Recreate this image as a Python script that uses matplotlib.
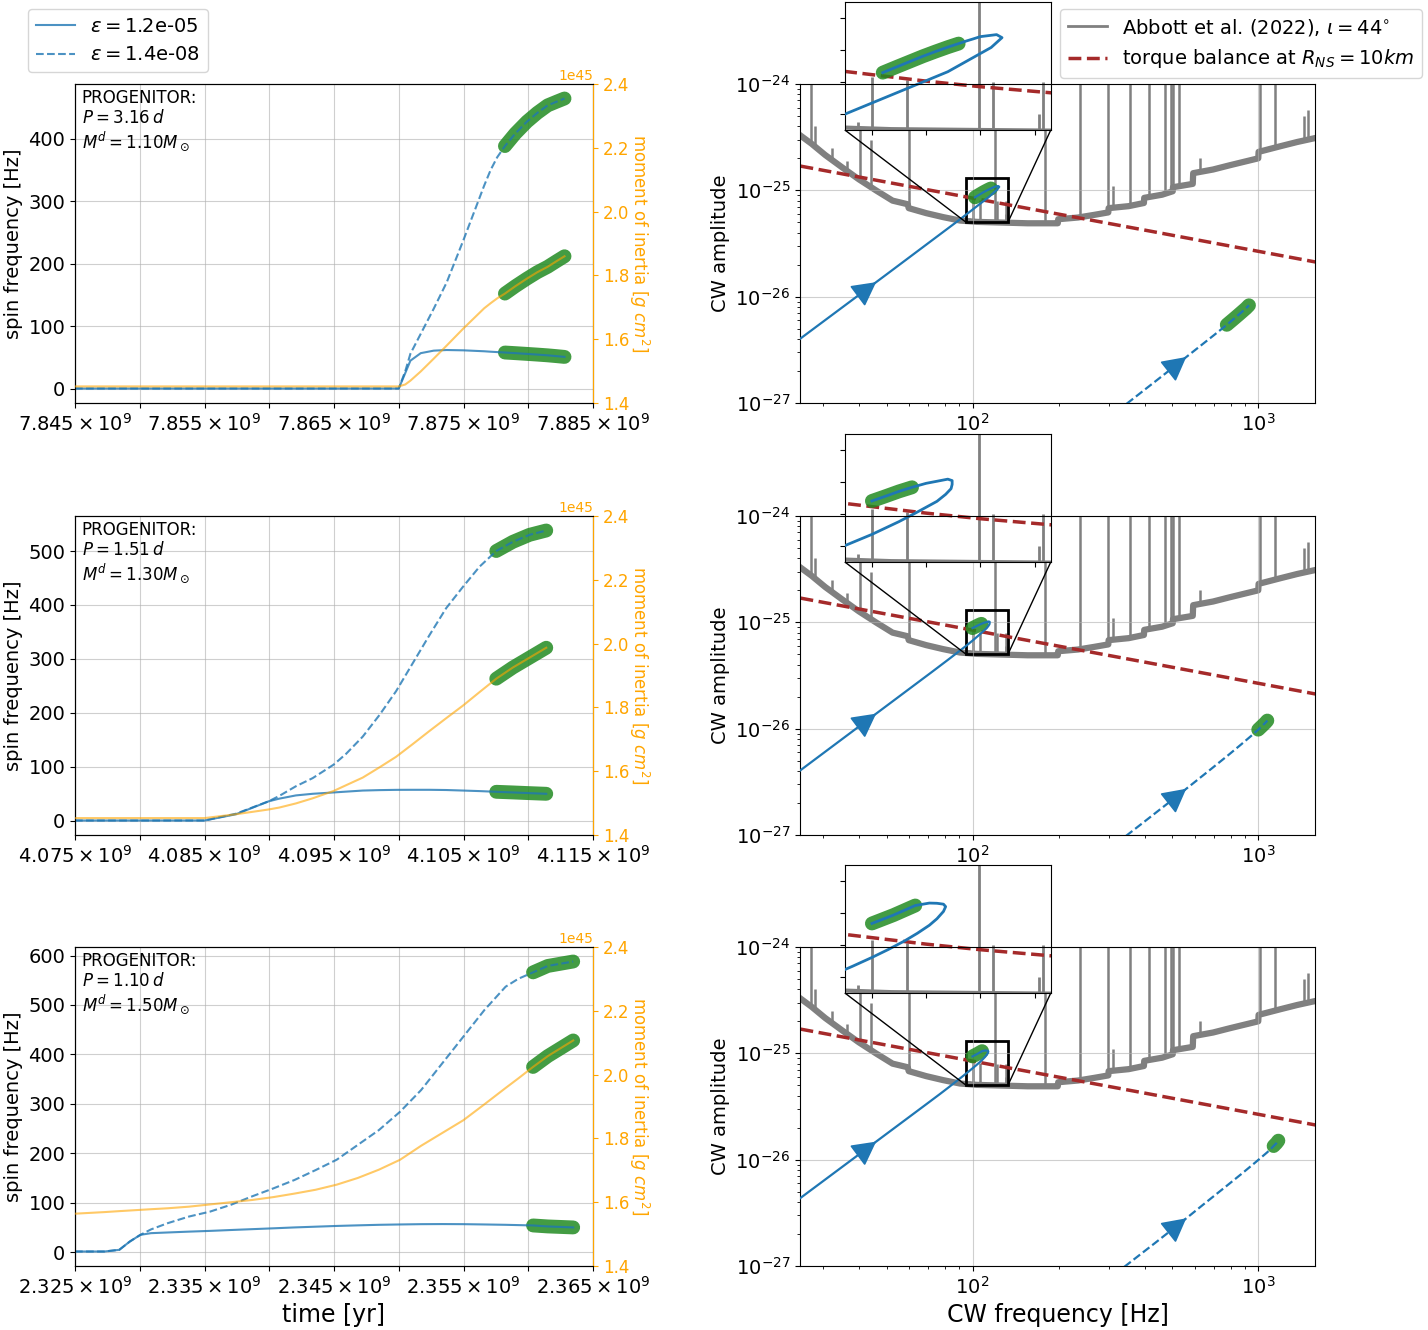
import numpy as np
import matplotlib
matplotlib.use("Agg")
import matplotlib.pyplot as plt
from matplotlib.ticker import MultipleLocator, FuncFormatter, NullFormatter, FixedLocator, LogLocator
from matplotlib.lines import Line2D
from mpl_toolkits.axes_grid1.inset_locator import mark_inset

plt.rcParams['font.size'] = 14

# ---------------- data ----------------
eps_labels = ['1.2e-05', '1.4e-08']
eps_values = [1.2e-05, 1.4e-08]
progenitor_P = ['3.16', '1.51', '1.10']
progenitor_Md = ['1.10', '1.30', '1.50']
time_start = [7.845e9, 4.075e9, 2.325e9]
time_end = [7.885e9, 4.115e9, 2.365e9]
green_start = [7.8782, 4.10753, 2.36037]          # 1e9 yr, start of green segment

# panel 1 (times in 1e9 yr, spin in Hz, moment of inertia in 1e45 g cm^2)
time_1 = [7.8450, 7.8600, 7.8700, 7.8705, 7.8709, 7.8717, 7.8727, 7.8737, 7.8750,
          7.8766, 7.8771, 7.8776, 7.8782, 7.8790, 7.8799, 7.8807, 7.8815, 7.8822, 7.8828]
nu_solid_1 = [0.5, 0.5, 0.5, 25, 45, 57, 61, 62.0, 61.5, 60, 59.3, 58.7, 58, 57, 55.8,
              54.7, 53.5, 52.2, 51]
nu_dashed_1 = [0.5, 0.5, 0.5, 28, 56, 88, 128, 170, 238, 325, 350, 370, 388, 408, 427,
               441, 453, 459, 464]
moi_1 = [1.452, 1.452, 1.452, 1.458, 1.470, 1.499, 1.539, 1.580, 1.634, 1.697, 1.713,
         1.728, 1.743, 1.766, 1.790, 1.810, 1.827, 1.845, 1.860]

# panel 2
time_2 = [4.0750, 4.0800, 4.08500, 4.08742, 4.08995, 4.09077, 4.09206, 4.09335, 4.09497,
          4.09593, 4.09722, 4.09851, 4.09979, 4.10108, 4.10237, 4.10366, 4.10497, 4.10624,
          4.10753, 4.10881, 4.11010, 4.11139]
nu_solid_2 = [0.5, 0.5, 0.5, 12, 36, 41, 47, 50, 52.5, 54, 56, 56.8, 57.3, 57.4, 57.4,
              57, 56, 55, 53.7, 52.5, 51.2, 50]
nu_dashed_2 = [0.5, 0.5, 0.5, 13, 36, 46, 64, 79, 104, 124, 156, 196, 240, 292, 344,
               394, 434, 471, 500, 517, 530, 538]
moi_2 = [1.453, 1.453, 1.453, 1.465, 1.480, 1.486, 1.499, 1.515, 1.538, 1.556, 1.580,
         1.612, 1.645, 1.685, 1.726, 1.766, 1.806, 1.848, 1.890, 1.925, 1.956, 1.987]

# panel 3
time_3 = [2.3250, 2.32728, 2.32842, 2.32924, 2.33005, 2.33087, 2.33217, 2.3338, 2.33543,
          2.33706, 2.33869, 2.34032, 2.34195, 2.34358, 2.34521, 2.34684, 2.34847, 2.3501,
          2.35173, 2.35336, 2.35499, 2.35662, 2.35825, 2.35923, 2.36037, 2.36151, 2.36347]
nu_solid_3 = [1.3, 1.3, 4.7, 21.6, 35, 38.4, 39.8, 41.5, 43, 44.8, 46.5, 48.2, 50, 51.5,
              53, 54.2, 55.3, 56, 56.6, 56.8, 56.6, 56, 55.3, 54.7, 54, 52, 50]
nu_dashed_3 = [1.3, 1.3, 4.7, 21.6, 35, 46, 58.7, 72, 82, 96, 113, 129, 146, 166, 187,
               217, 247, 284, 328, 382, 436, 490, 537, 553, 566, 579, 588]
moi_3 = [1.564, 1.569, 1.572, 1.574, 1.576, 1.578, 1.581, 1.586, 1.593, 1.600, 1.607,
         1.616, 1.627, 1.639, 1.655, 1.676, 1.702, 1.733, 1.777, 1.817, 1.857, 1.907,
         1.958, 1.988, 2.024, 2.058, 2.107]

# CW amplitude calibration: h0 = h_scale * eps * I * f_gw^2
h_scale = 3.7e-70

# Abbott et al. (2022) upper-limit curve (frequency [Hz], amplitude)
abbott_f = [24.9, 27.3, 30.5, 34.9, 40.0, 45.9, 52.5, 59.3, 59.8, 68.9, 78.9, 90.4, 103.6,
            118.7, 136, 155.8, 198.8, 199.5, 234, 268.7, 298.7, 299.5, 352, 398, 399, 461,
            502, 503, 590, 592, 695, 794, 1000, 1003, 1196, 1370, 1580]
abbott_h = [3.3e-25, 2.75e-25, 2.15e-25, 1.65e-25, 1.27e-25, 1.0e-25, 8.0e-26, 7.4e-26,
            6.8e-26, 6.1e-26, 5.6e-26, 5.2e-26, 5.05e-26, 5.0e-26, 4.95e-26, 4.9e-26,
            4.9e-26, 5.35e-26, 5.55e-26, 5.9e-26, 6.2e-26, 6.8e-26, 7.1e-26, 7.6e-26,
            8.5e-26, 9.1e-26, 9.8e-26, 1.07e-25, 1.15e-25, 1.45e-25, 1.57e-25, 1.72e-25,
            2.0e-25, 2.3e-25, 2.6e-25, 2.85e-25, 3.1e-25]
spike_f = [27.2, 28.1, 32.2, 36.4, 40.5, 44.2, 59.8, 97.5, 100.0, 106.5, 119.8, 122.3,
           130.9, 131.5, 179.5, 237.5, 299, 311, 357, 414, 472, 495, 502, 529, 624,
           1014, 1144, 1444, 1488]
spike_base = [2.8e-25, 2.6e-25, 1.95e-25, 1.5e-25, 1.25e-25, 1.05e-25, 7.2e-26, 5.1e-26,
              5.05e-26, 5.05e-26, 5.0e-26, 5.0e-26, 4.95e-26, 4.95e-26, 4.9e-26, 5.55e-26,
              6.5e-26, 6.9e-26, 7.1e-26, 8.6e-26, 9.2e-26, 9.6e-26, 9.8e-26, 1.08e-25,
              1.5e-25, 2.3e-25, 2.5e-25, 2.9e-25, 2.95e-25]
spike_top = [2e-24, 4.0e-25, 2.5e-25, 1.9e-25, 5e-25, 3.0e-25, 2e-24, 5.5e-26, 8.3e-26,
             8.1e-26, 2e-24, 8.0e-26, 6.0e-26, 8.0e-26, 2e-24, 2e-24, 2e-24, 1.1e-25,
             2e-24, 2e-24, 2e-24, 2e-24, 2e-24, 2e-24, 2.0e-25, 2e-24, 2e-24, 5.0e-25, 5.7e-25]

# torque balance line at R_NS = 10 km
torque_f = [25, 95, 110, 120, 135, 400, 1600]
torque_h = [1.69e-25, 8.67e-26, 8.06e-26, 7.71e-26, 7.27e-26, 4.23e-26, 2.11e-26]

arrow_f = [46, 560]   # frequencies where direction arrows sit (solid, dashed)

cw_xticks = [100, 1000]
cw_yticks = [1e-27, 1e-26, 1e-25, 1e-24]

times = [time_1, time_2, time_3]
nu_solid = [nu_solid_1, nu_solid_2, nu_solid_3]
nu_dashed = [nu_dashed_1, nu_dashed_2, nu_dashed_3]
moi = [moi_1, moi_2, moi_3]

# ---------------- figure ----------------
W, H = 1428, 1330
fig = plt.figure(figsize=(W / 100, H / 100), dpi=100)


def px_axes(x0, y0, x1, y1):
    return fig.add_axes([x0 / W, 1 - y1 / H, (x1 - x0) / W, (y1 - y0) / H])


def make_fmt(t0):
    def fmt(x, pos):
        k = int(round((x - t0) / 5e6))
        if k % 2 == 0:
            return r'$%.3f\times10^{9}$' % (x / 1e9)
        return ''
    return fmt


def add_arrow(ax, f, h, f_at, color='C0'):
    lf = np.log10(f)
    lh = np.log10(h)
    k = int(np.argmax(f >= f_at))
    slope = (lh[k] - lh[k - 1]) / (lf[k] - lf[k - 1])
    w = (np.log10(f_at) - lf[k - 1]) / (lf[k] - lf[k - 1])
    lh_at = lh[k - 1] + w * (lh[k] - lh[k - 1])
    dl = 0.02
    tail = (10 ** (np.log10(f_at) - dl), 10 ** (lh_at - dl * slope))
    ax.annotate('', xy=(f_at, 10 ** lh_at), xytext=tail,
                arrowprops=dict(arrowstyle='-|>,head_length=0.6,head_width=0.32',
                                color=color, lw=1.2, mutation_scale=25,
                                shrinkA=0, shrinkB=0), zorder=5)


rows = [(84, 403), (516, 835), (947, 1266)]
green = 'forestgreen'
galpha = 0.85
glw = 10
grid_kw = dict(color='#b0b0b0', alpha=0.6, lw=0.8)

handles = None
for i in range(3):
    y0, y1 = rows[i]
    t = np.array(times[i]) * 1e9
    ns = np.array(nu_solid[i], dtype=float)
    nd = np.array(nu_dashed[i], dtype=float)
    I = np.array(moi[i]) * 1e45
    g = t >= green_start[i] * 1e9 - 1.0

    # ---- left: spin frequency vs time ----
    axL = px_axes(75, y0, 593, y1)
    axL.plot(t[g], ns[g], color=green, lw=glw, alpha=galpha, solid_capstyle='round', zorder=2)
    axL.plot(t[g], nd[g], color=green, lw=glw, alpha=galpha, solid_capstyle='round', zorder=2)
    l1, = axL.plot(t, ns, color='C0', alpha=0.8, lw=1.5, zorder=3)
    l2, = axL.plot(t, nd, color='C0', alpha=0.8, lw=1.5, ls='--', zorder=3)
    handles = [l1, l2]
    axL.set_xlim(time_start[i], time_end[i])
    axL.xaxis.set_major_locator(MultipleLocator(5e6))
    axL.xaxis.set_major_formatter(FuncFormatter(make_fmt(time_start[i])))
    axL.grid(True, **grid_kw)
    axL.set_ylabel('spin frequency [Hz]', fontsize=14)
    axL.tick_params(labelsize=14)
    axL.text(0.013, 0.985,
             'PROGENITOR:\n$P = %s\\,d$\n$M^d = %s M_\\odot$' % (progenitor_P[i], progenitor_Md[i]),
             transform=axL.transAxes, va='top', ha='left', fontsize=12, linespacing=1.15)

    axT = axL.twinx()
    axT.plot(t[g], I[g], color=green, lw=glw, alpha=galpha, solid_capstyle='round', zorder=2)
    axT.plot(t, I, color='orange', alpha=0.6, lw=1.5, zorder=3)
    axT.set_ylim(1.4e45, 2.4e45)
    axT.tick_params(axis='y', colors='orange', labelsize=12)
    axT.spines['right'].set_color('orange')
    axT.yaxis.get_offset_text().set_fontsize(10)
    axT.set_ylabel('moment of inertia $[g\\ cm^2]$', color='orange', fontsize=12,
                   rotation=270, labelpad=16)
    if i == 2:
        axL.set_xlabel('time [yr]', fontsize=17)

    # ---- right: CW amplitude vs CW frequency ----
    axC = px_axes(800, y0, 1315, y1)
    axC.set_xscale('log')
    axC.set_yscale('log')
    axC.plot(abbott_f, abbott_h, color='gray', lw=4.5, zorder=1)
    axC.vlines(spike_f, spike_base, spike_top, color='gray', lw=1.8, zorder=1)
    axC.plot(torque_f, torque_h, color='brown', ls='--', lw=2.5, zorder=2)

    axins = axC.inset_axes([0.087, 0.856, 0.40, 0.40])
    axins.plot(abbott_f, abbott_h, color='gray', lw=3, zorder=1)
    axins.vlines(spike_f, spike_base, spike_top, color='gray', lw=2, zorder=1)
    axins.plot(torque_f, torque_h, color='brown', ls='--', lw=2.5, zorder=2)

    for k, (nu, ls) in enumerate([(ns, '-'), (nd, '--')]):
        f = 2 * nu
        h = h_scale * eps_values[k] * I * f ** 2
        axC.plot(f[g], h[g], color=green, lw=glw, alpha=galpha, solid_capstyle='round', zorder=3)
        axC.plot(f, h, color='C0', lw=1.6, ls=ls, zorder=4)
        add_arrow(axC, f, h, arrow_f[k])
        if k == 0:
            axins.plot(f[g], h[g], color=green, lw=glw, alpha=galpha, solid_capstyle='round', zorder=3)
            axins.plot(f, h, color='C0', lw=2, zorder=4)

    axC.set_xlim(24.9, 1580)
    axC.set_ylim(1e-27, 1e-24)
    axC.xaxis.set_major_locator(FixedLocator(cw_xticks))
    axC.yaxis.set_major_locator(FixedLocator(cw_yticks))
    axC.xaxis.set_minor_locator(LogLocator(base=10, subs=np.arange(2, 10), numticks=20))
    axC.yaxis.set_minor_locator(LogLocator(base=10, subs=np.arange(2, 10), numticks=20))
    axC.xaxis.set_minor_formatter(NullFormatter())
    axC.yaxis.set_minor_formatter(NullFormatter())
    axC.grid(True, which='major', **grid_kw)
    axC.set_ylabel('CW amplitude', fontsize=14)
    axC.tick_params(labelsize=14)
    if i == 2:
        axC.set_xlabel('CW frequency [Hz]', fontsize=17)

    axins.set_xlim(95, 133)
    axins.set_ylim(5e-26, 1.3e-25)
    axins.set_xticks([100, 110, 120, 130])
    axins.set_yticks([6e-26, 8e-26, 1e-25, 1.2e-25])
    axins.xaxis.set_major_formatter(NullFormatter())
    axins.yaxis.set_major_formatter(NullFormatter())
    pp, c1, c2 = mark_inset(axC, axins, loc1=3, loc2=4, fc='none', ec='black', lw=1)
    pp.set_linewidth(2)
    axC.spines['top'].set_zorder(6)

# legends
fig.legend(handles, [r'$\varepsilon = $' + e for e in eps_labels], loc='upper left',
           bbox_to_anchor=(28 / W, 1 - 9 / H), borderaxespad=0, fontsize=14)
proxy = [Line2D([], [], color='gray', lw=2),
         Line2D([], [], color='brown', ls='--', lw=2.5)]
fig.legend(proxy, [r'Abbott et al. (2022), $\iota = 44^{\circ}$',
                   r'torque balance at $R_{NS} = 10km$'],
           loc='upper right', bbox_to_anchor=(1422 / W, 1 - 9 / H), borderaxespad=0, fontsize=14)

fig.savefig('out.png', dpi=100)
